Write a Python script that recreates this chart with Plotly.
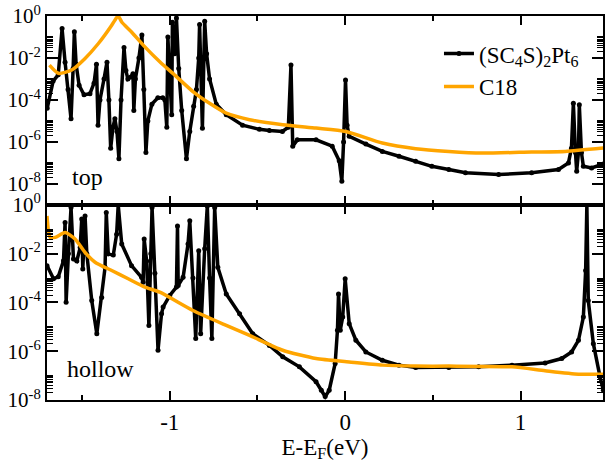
import plotly.graph_objects as go
from plotly.subplots import make_subplots

# ---- data (energies in eV, transmission given as log10 values) ----
top_black_x = [-1.699, -1.665, -1.636, -1.614, -1.597, -1.580, -1.563, -1.551, -1.544, -1.534,
               -1.517, -1.489, -1.455, -1.432, -1.418, -1.409, -1.398, -1.375, -1.358, -1.347,
               -1.337, -1.324, -1.313, -1.301, -1.290, -1.278, -1.261, -1.250, -1.239, -1.222,
               -1.210, -1.205, -1.196, -1.176, -1.159, -1.148, -1.136, -1.125, -1.102, -1.068,
               -1.040, -1.028, -1.017, -1.011, -1.000, -0.989, -0.985, -0.972, -0.962, -0.949,
               -0.932, -0.905, -0.886, -0.864, -0.848, -0.835, -0.830, -0.814, -0.807, -0.801,
               -0.790, -0.773, -0.735, -0.678, -0.585, -0.489, -0.432, -0.358, -0.324, -0.309,
               -0.299, -0.273, -0.166, -0.074, -0.034, -0.019, -0.009, 0.002, 0.011, 0.023,
               0.118, 0.212, 0.307, 0.402, 0.494, 0.591, 0.686, 0.875, 1.063, 1.216,
               1.273, 1.290, 1.301, 1.313, 1.320, 1.330, 1.335, 1.347, 1.358, 1.405,
               1.453, 1.472]
top_black_logy = [-4.4, -3.1, -2.8, -0.6, -2.2, -3.5, -4.9, -2.5, -0.75, -2.3,
                  -3.3, -3.75, -3.7, -3.2, -2.3, -5.2, -4.0, -3.0, -2.2, -4.0,
                  -6.3, -5.3, -4.9, -5.5, -6.8, -4.0, -1.5, -2.6, -3.0, -2.9,
                  -2.75, -4.5, -3.0, -2.0, -0.9, -3.5, -6.5, -5.0, -4.2, -3.9,
                  -3.9, -4.0, -5.3, -1.0, -2.8, -4.7, -0.3, -1.8, -0.1, -2.5,
                  -4.5, -6.8, -5.5, -4.3, -3.5, -2.0, -0.4, -5.35, -2.0, -0.25,
                  -1.8, -3.0, -4.2, -4.7, -5.2, -5.4, -5.45, -5.5, -5.3, -2.34,
                  -6.2, -5.9, -5.9, -6.2, -6.9, -7.87, -6.0, -3.05, -5.2, -5.73,
                  -6.1, -6.45, -6.68, -6.92, -7.16, -7.31, -7.47, -7.55, -7.47, -7.31,
                  -7.0, -6.3, -4.16, -6.5, -7.39, -6.5, -4.23, -6.5, -7.16, -7.24,
                  -7.08, -7.05]

top_orange_x = [-1.686, -1.635, -1.559, -1.483, -1.407, -1.331, -1.313, -1.294, -1.273, -1.218,
                -1.142, -1.057, -0.962, -0.868, -0.773, -0.678, -0.545, -0.356, -0.166, 0.004,
                0.212, 0.402, 0.591, 0.778, 1.063, 1.254, 1.472]
top_orange_logy = [-2.34, -2.73, -2.57, -2.02, -1.31, -0.44, -0.2, 0.0, -0.3, -0.76,
                   -1.47, -2.18, -2.89, -3.6, -4.16, -4.63, -4.94, -5.18, -5.34, -5.5,
                   -6.05, -6.32, -6.45, -6.53, -6.48, -6.45, -6.29]

bot_black_x = [-1.700, -1.663, -1.636, -1.606, -1.597, -1.591, -1.578, -1.563, -1.549, -1.530,
               -1.511, -1.502, -1.496, -1.483, -1.473, -1.445, -1.416, -1.388, -1.369, -1.362,
               -1.351, -1.322, -1.303, -1.294, -1.274, -1.218, -1.161, -1.152, -1.146, -1.132,
               -1.119, -1.108, -1.101, -1.085, -1.067, -1.047, -1.038, -1.000, -0.962, -0.956,
               -0.952, -0.924, -0.896, -0.886, -0.868, -0.852, -0.835, -0.824, -0.801, -0.786,
               -0.773, -0.760, -0.744, -0.726, -0.678, -0.602, -0.527, -0.432, -0.356, -0.261,
               -0.166, -0.136, -0.114, -0.091, -0.057, -0.044, -0.038, -0.028, -0.014, 0.000,
               0.023, 0.061, 0.118, 0.212, 0.307, 0.402, 0.591, 0.761, 0.951, 1.140,
               1.235, 1.291, 1.330, 1.358, 1.371, 1.378, 1.386, 1.415, 1.453, 1.472]
bot_black_logy = [-2.49, -3.03, -2.95, -2.29, -0.72, -3.99, -2.0, -0.11, -2.22, -2.3,
                  -1.75, -0.58, -2.63, -0.45, -2.0, -3.92, -5.28, -3.8, -2.56, -0.31,
                  -2.01, -2.05, -1.2, 0.0, -1.6, -2.49, -2.97, -3.17, -1.4, -2.3,
                  -4.94, -2.0, -0.11, -2.8, -5.96, -4.46, -4.19, -3.71, -3.37, -0.86,
                  -3.3, -2.97, -1.6, -0.65, -3.0, -5.48, -1.88, -5.28, -1.8, -0.04,
                  -3.0, -5.48, -0.11, -2.56, -3.65, -4.46, -5.28, -5.76, -6.23, -6.64,
                  -7.25, -7.6, -7.86, -7.6, -6.5, -5.14, -3.65, -5.14, -4.6, -3.03,
                  -4.87, -5.55, -6.03, -6.37, -6.57, -6.67, -6.67, -6.64, -6.57, -6.48,
                  -6.3, -6.03, -5.55, -4.6, -2.69, 0.0, -3.92, -5.69, -7.05, -7.6]

bot_orange_x = [-1.700, -1.682, -1.653, -1.597, -1.540, -1.483, -1.426, -1.331, -1.237, -1.142,
                -1.057, -0.868, -0.678, -0.545, -0.356, -0.166, 0.023, 0.212, 0.402, 0.591,
                0.951, 1.140, 1.330, 1.472]
bot_orange_logy = [-0.45, -1.33, -1.33, -1.13, -1.4, -1.95, -2.35, -2.69, -3.03, -3.37,
                   -3.58, -4.33, -4.94, -5.35, -5.96, -6.3, -6.44, -6.57, -6.61, -6.61,
                   -6.64, -6.8, -6.94, -6.94]

series_names = ["(SC<sub>4</sub>S)<sub>2</sub>Pt<sub>6</sub>", "C18"]
panel_labels = ["top", "hollow"]
x_major_ticks = [-1, 0, 1]
x_tick_text = ["-1", "0", "1"]
x_minor_ticks = [-1.5, -0.5, 0.5]
y_major_exp = [0, -2, -4, -6, -8]

BLACK = "#000000"
ORANGE = "#FFA500"
FONT = "Liberation Serif"


def to_val(logs):
    return [10 ** v for v in logs]


fig = make_subplots(rows=2, cols=1, shared_xaxes=True, vertical_spacing=0,
                    row_heights=[0.492, 0.508])

fig.add_trace(go.Scatter(x=top_black_x, y=to_val(top_black_logy), mode="lines+markers",
                         line=dict(color=BLACK, width=3.5), marker=dict(color=BLACK, size=5),
                         name=series_names[0], legendgroup="a"), row=1, col=1)
fig.add_trace(go.Scatter(x=top_orange_x, y=to_val(top_orange_logy), mode="lines",
                         line=dict(color=ORANGE, width=3.5, shape="spline", smoothing=0.6),
                         name=series_names[1], legendgroup="b"), row=1, col=1)
fig.add_trace(go.Scatter(x=bot_black_x, y=to_val(bot_black_logy), mode="lines+markers",
                         line=dict(color=BLACK, width=3.5), marker=dict(color=BLACK, size=5),
                         name=series_names[0], legendgroup="a", showlegend=False), row=2, col=1)
fig.add_trace(go.Scatter(x=bot_orange_x, y=to_val(bot_orange_logy), mode="lines",
                         line=dict(color=ORANGE, width=3.5, shape="spline", smoothing=0.6),
                         name=series_names[1], legendgroup="b", showlegend=False), row=2, col=1)

y_tickvals = [10 ** e for e in y_major_exp]
y_ticktext = ["10<sup>%d</sup>" % e for e in y_major_exp]
y_minor = [m * 10 ** k for k in (-10, -8, -6, -4, -2) for m in range(2, 11)]

common_x = dict(range=[-1.70, 1.47], showline=True, linecolor=BLACK, linewidth=2,
                mirror="ticks", ticks="inside", ticklen=9, tickwidth=1.5, tickcolor=BLACK,
                tickvals=x_major_ticks, ticktext=x_tick_text, showgrid=False, zeroline=False,
                minor=dict(tickvals=x_minor_ticks, ticks="inside", ticklen=5, tickwidth=1.5,
                           tickcolor=BLACK, showgrid=False),
                tickfont=dict(family=FONT, size=23))
fig.update_xaxes(**common_x)
fig.update_xaxes(showticklabels=False, row=1, col=1)
fig.update_xaxes(title=dict(text="E-E<sub>F</sub>(eV)", font=dict(family=FONT, size=23),
                            standoff=3), row=2, col=1)

common_y = dict(type="log", showline=True, linecolor=BLACK, linewidth=2, mirror="ticks",
                ticks="inside", ticklen=11, tickwidth=1.5, tickcolor=BLACK,
                tickvals=y_tickvals, ticktext=y_ticktext, showgrid=False, zeroline=False,
                minor=dict(tickvals=y_minor, ticks="inside", ticklen=6, tickwidth=1.2,
                           tickcolor=BLACK, showgrid=False),
                tickfont=dict(family=FONT, size=21))
fig.update_yaxes(**common_y)
fig.update_yaxes(range=[-9, 0], row=1, col=1)
fig.update_yaxes(range=[-8, 0], row=2, col=1)

fig.add_annotation(text=panel_labels[0], xref="x", yref="y domain", x=-1.57, y=0.07,
                   xanchor="left", yanchor="bottom", showarrow=False,
                   font=dict(family=FONT, size=24))
fig.add_annotation(text=panel_labels[1], xref="x2", yref="y2 domain", x=-1.60, y=0.08,
                   xanchor="left", yanchor="bottom", showarrow=False,
                   font=dict(family=FONT, size=24))

fig.update_layout(
    width=607, height=472,
    margin=dict(l=47, r=2, t=14, b=72),
    paper_bgcolor="white", plot_bgcolor="white",
    font=dict(family=FONT, color=BLACK),
    legend=dict(x=0.705, y=0.958, xanchor="left", yanchor="top",
                bgcolor="rgba(0,0,0,0)", font=dict(family=FONT, size=23),
                tracegroupgap=0, itemwidth=30),
    showlegend=True,
)

page_js = (
    "document.body.style.margin='0';"
    "var st=document.createElement('style');"
    "st.textContent='.main-svg text, .main-svg tspan "
    "{font-family: \"Liberation Serif\", \"Times New Roman\", serif !important;}';"
    "document.head.appendChild(st);"
)

fig.write_html("out.html", config={"displayModeBar": False}, post_script=page_js)
